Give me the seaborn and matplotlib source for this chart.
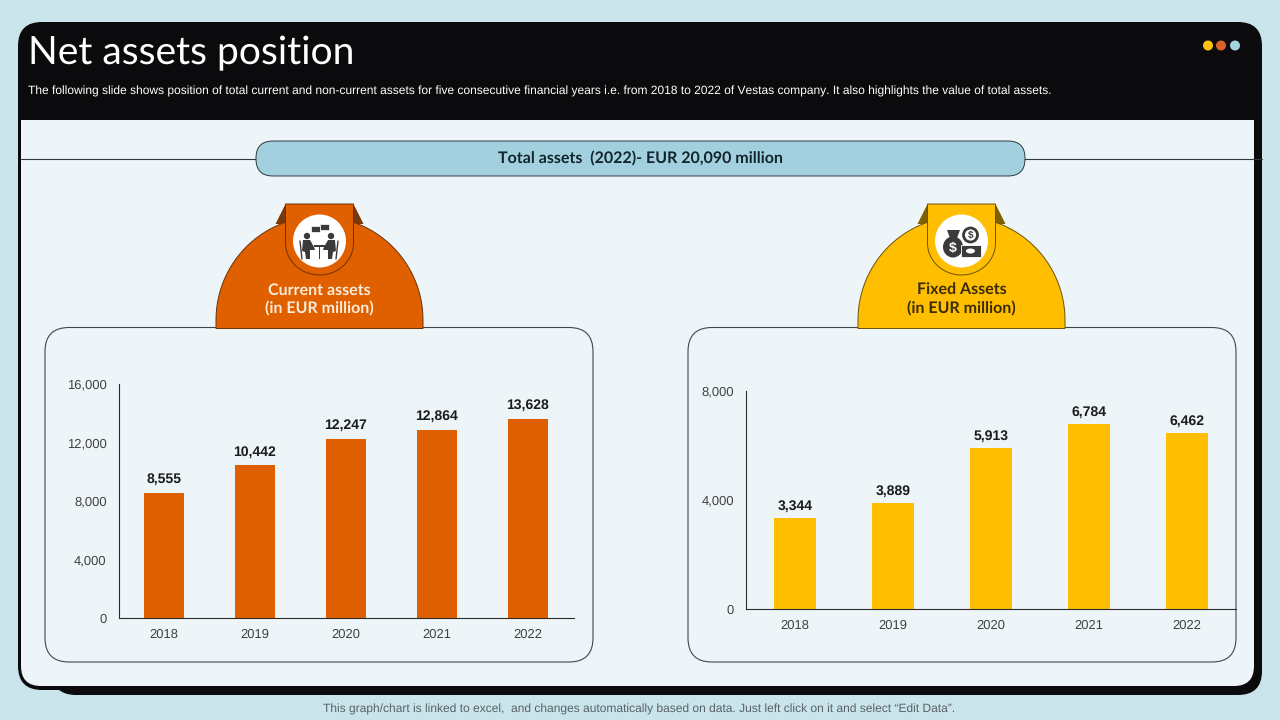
import matplotlib
matplotlib.use("Agg")
import matplotlib.pyplot as plt
from matplotlib.patches import FancyBboxPatch, Circle, Rectangle, Polygon, Ellipse
import numpy as np
import pandas as pd
import seaborn as sns

years = ["2018", "2019", "2020", "2021", "2022"]
current_assets = [8555, 10442, 12247, 12864, 13628]
fixed_assets = [3344, 3889, 5913, 6784, 6462]
current_ticks = [0, 4000, 8000, 12000, 16000]
fixed_ticks = [0, 4000, 8000]

title = "Net assets position"
subtitle = ("The following slide shows position of total current and non-current assets for five consecutive "
            "financial years i.e. from 2018 to 2022 of Vestas company. It also highlights the value of total assets.")
banner = "Total assets  (2022)- EUR 20,090 million"
footer = "This graph/chart is linked to excel,  and changes automatically based on data. Just left click on it and select \u201cEdit Data\u201d."

BG = "#C9E4EB"; PANEL = "#EEF5F8"; DARK = "#0B0B0D"
ORANGE = "#E06000"; YELLOW = "#FFBE00"; ICON = "#3A3A3A"

sns.set_theme(style="white")
plt.rcParams["font.family"] = ["Liberation Sans", "DejaVu Sans"]
plt.rcParams["text.hinting"] = "no_hinting"
plt.rcParams["text.hinting_factor"] = 1
W, H = 1280, 720
fig = plt.figure(figsize=(12.8, 7.2), dpi=100, facecolor=BG)
bg = fig.add_axes([0, 0, 1, 1])
bg.set_xlim(0, W); bg.set_ylim(H, 0); bg.axis("off")

def rrect(x0, y0, x1, y1, r, **kw):
    p = FancyBboxPatch((x0 + r, y0 + r), x1 - x0 - 2 * r, y1 - y0 - 2 * r,
                       boxstyle=f"round,pad={r},rounding_size={r}", **kw)
    bg.add_patch(p)
    return p

# frame
rrect(52, 40, 1262, 695, 24, fc=DARK, ec="none", zorder=1)
rrect(18, 22, 1262, 690, 24, fc=DARK, ec="none", zorder=2)
rrect(21, 100, 1254, 686, 20, fc=PANEL, ec="none", zorder=3)
bg.add_patch(Rectangle((18, 60), 1244, 60, fc=DARK, ec="none", zorder=4))

bg.text(28.5, 53.5, title, color="white", fontsize=28.2, family="Lato", va="center", ha="left", zorder=6)
bg.text(28, 91.5, subtitle, color="white", fontsize=8.7, va="center", ha="left", zorder=6)
for cx, c in zip([1208, 1221, 1235], ["#FFC20E", "#D9622B", "#A6D3E0"]):
    bg.add_patch(Circle((cx, 45.5), 5, fc=c, ec="none", zorder=6))

# banner
bg.plot([21, 1262], [158.5, 158.5], color="#2F3A40", lw=0.8, zorder=5)
rrect(256, 141, 1025, 176, 17, fc="#A3D0DF", ec="#2F3A40", lw=0.7, zorder=6)
bg.text(640, 158.5, banner, color="#12242C", fontsize=11.75, family="Lato", fontweight="bold", ha="center", va="center", zorder=7)

# chart panels
rrect(45, 327.5, 593, 662, 24, fc=PANEL, ec="#3A4A52", lw=0.8, zorder=5)
rrect(688, 327.5, 1236, 662, 24, fc=PANEL, ec="#3A4A52", lw=0.8, zorder=5)

def badge(cx, x0, x1, fc, ec, dark, lines, tc):
    r = (x1 - x0) / 2
    t = np.linspace(np.pi, 0, 60)
    xs = cx + r * np.cos(t)
    ys = 320 - r * np.sin(t)
    verts = [(x0, 328.5)] + list(zip(xs, ys)) + [(x1, 328.5)]
    bg.add_patch(Polygon([(cx - 34, 204), (cx - 44, 224), (cx - 28, 224)], fc=dark, ec="none", zorder=6))
    bg.add_patch(Polygon([(cx + 34, 204), (cx + 44, 224), (cx + 28, 224)], fc=dark, ec="none", zorder=6))
    bg.add_patch(Polygon(verts, closed=True, fc=fc, ec=ec, lw=0.7, zorder=7))
    a = np.linspace(np.pi, 2 * np.pi, 40)
    tab = [(cx - 34, 204)] + list(zip(cx + 34 * np.cos(a), 243 - 32 * np.sin(a))) + [(cx + 34, 204)]
    bg.add_patch(Polygon(tab, closed=True, fc=fc, ec=ec, lw=0.7, zorder=8))
    bg.add_patch(Circle((cx, 241), 26.5, fc="white", ec="none", zorder=9))
    bg.text(cx, 290, lines[0], color=tc, fontsize=11.7, family="Lato", fontweight="bold", ha="center", va="center", zorder=10)
    bg.text(cx, 309, lines[1], color=tc, fontsize=11.7, family="Lato", fontweight="bold", ha="center", va="center", zorder=10)

badge(319.5, 216, 423, ORANGE, "#6B3208", "#7A3A06", ["Current assets", "(in EUR million)"], "#FBEBD9")
badge(961.5, 858, 1065, YELLOW, "#6B5208", "#7F6000", ["Fixed Assets", "(in EUR million)"], "#3A2C06")

Z = 11
def person(cx, flip):
    s = -1 if flip else 1
    bg.add_patch(Circle((cx, 236), 3.2, fc=ICON, ec="none", zorder=Z))
    bg.add_patch(Polygon([(cx - 4 * s, 240), (cx + 3 * s, 240), (cx + 7 * s, 247), (cx + 8 * s, 250),
                          (cx + 3 * s, 250), (cx + 3 * s, 259), (cx - 1 * s, 259), (cx - 2 * s, 252), (cx - 5 * s, 251)],
                         fc=ICON, ec="none", zorder=Z))
    bg.plot([cx - 7 * s, cx - 5 * s], [241, 259], color=ICON, lw=1, zorder=Z)

# meeting icon
person(307, False)
person(331, True)
bg.add_patch(Rectangle((314, 245), 11, 1.6, fc=ICON, ec="none", zorder=Z))
bg.add_patch(Rectangle((318.7, 246), 1.6, 13, fc=ICON, ec="none", zorder=Z))
bg.add_patch(Rectangle((310.5, 225.5), 9, 6, fc=ICON, ec="white", lw=0.5, zorder=Z))
bg.add_patch(Rectangle((320, 223.5), 9, 6, fc=ICON, ec="white", lw=0.5, zorder=Z))

# money icon
bg.add_patch(Ellipse((953, 247), 20, 21, fc=ICON, ec="none", zorder=Z))
bg.add_patch(Polygon([(947, 230), (960, 230), (957, 238), (950, 238)], fc=ICON, ec="none", zorder=Z))
bg.text(953, 248, "$", color="white", fontsize=10, fontweight="bold", ha="center", va="center", zorder=Z + 1)
bg.add_patch(Circle((970.5, 235), 7, fc="white", ec=ICON, lw=2, zorder=Z))
bg.text(970.5, 235.5, "$", color=ICON, fontsize=7, fontweight="bold", ha="center", va="center", zorder=Z + 1)
bg.add_patch(Rectangle((961, 245), 19.5, 12, fc=ICON, ec="white", lw=0.6, zorder=Z))
bg.add_patch(Ellipse((970.5, 251), 9, 5, fc="white", ec="none", zorder=Z + 1))

def chart(left, right, top, bottom, values, ticks, color, width, label_pad):
    ax = fig.add_axes([left / W, 1 - bottom / H, (right - left) / W, (bottom - top) / H], zorder=20)
    ax.patch.set_alpha(0)
    df = pd.DataFrame({"year": years, "value": values})
    sns.barplot(data=df, x="year", y="value", color=color, saturation=1, width=width, linewidth=0, ax=ax)
    ax.set_xlim(-0.5, 4.5)
    ax.set_ylim(0, ticks[-1])
    ax.set_yticks(ticks)
    ax.set_yticklabels([f"{t:,}" for t in ticks])
    ax.set_xlabel(""); ax.set_ylabel("")
    ax.tick_params(axis="both", length=0, labelsize=9.5, labelcolor="#404040")
    ax.tick_params(axis="x", pad=7.5)
    ax.tick_params(axis="y", pad=8.5)
    for s in ("top", "right"):
        ax.spines[s].set_visible(False)
    for s in ("left", "bottom"):
        ax.spines[s].set_color("#2B2B2B"); ax.spines[s].set_linewidth(0.8)
    ax.bar_label(ax.containers[0], labels=[f"{v:,}" for v in values], padding=label_pad,
                 fontsize=10.2, fontweight="bold", color="#1C1C1C")
    return ax

chart(118.5, 573.5, 384, 618, current_assets, current_ticks, ORANGE, 0.44, 4.8)
chart(746, 1236, 391, 609, fixed_assets, fixed_ticks, YELLOW, 0.43, 3.8)

bg.text(639.5, 709.5, footer, color="#596167", fontsize=8.55, ha="center", va="center", zorder=6)

fig.savefig("out.png", dpi=100, facecolor=BG)
